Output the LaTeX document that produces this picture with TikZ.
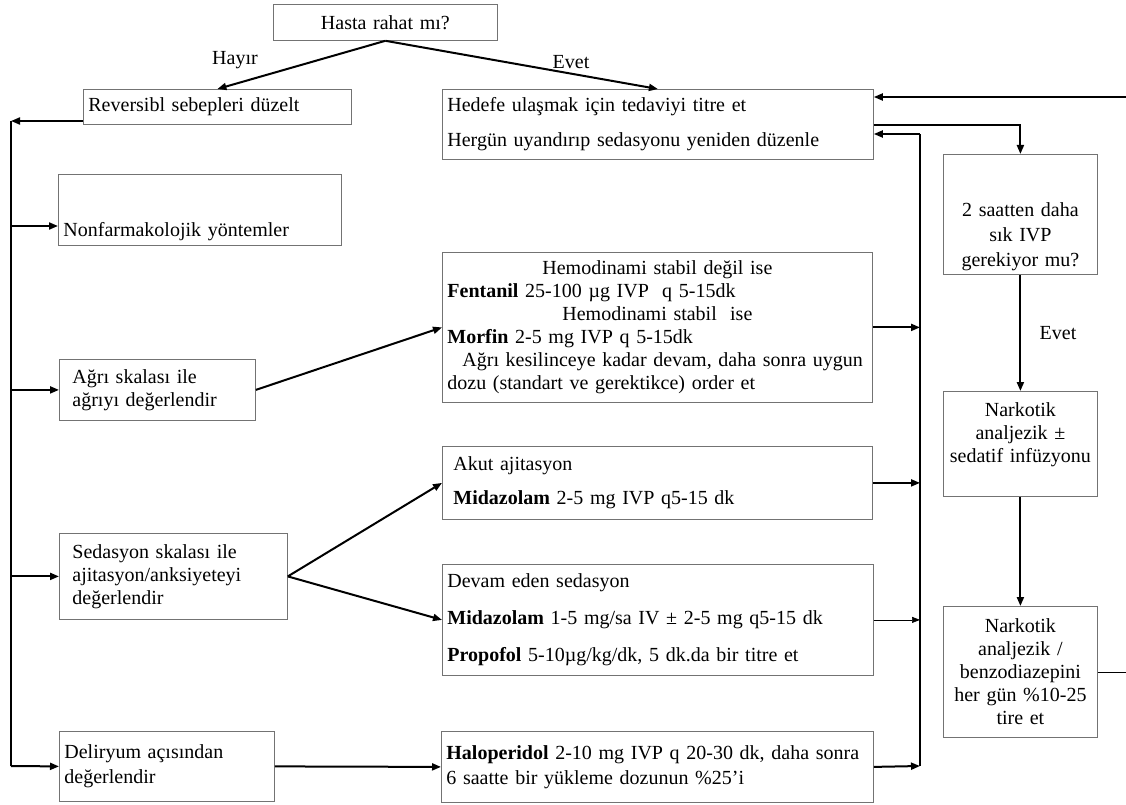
\documentclass[tikz,border=0pt]{standalone}
\usepackage{fontspec}
\setmainfont{Liberation Serif}
\usepackage{tikz}
\usetikzlibrary{arrows.meta, positioning}

\begin{document}
\begin{tikzpicture}[
  x=1pt, y=-1pt,
  box/.style={
    rectangle,
    draw=black!55,
    line width=0.8pt,
    anchor=north west,
    inner xsep=5pt,
    inner ysep=2pt,
    align=left
  },
  arrow/.style={-{Triangle[length=9pt,width=7pt]}, line width=2pt},
  thinarrow/.style={-{Triangle[length=8pt,width=6pt]}, line width=0.7pt},
  trunk/.style={line width=1.4pt},
  every node/.append style={font=\fontsize{20}{23}\selectfont}
]
\useasboundingbox (0,0) rectangle (1126,805);

% Nodes (left column)
\node[box, text width=214pt, minimum height=36pt, align=center] (hasta) at (273,4) {Hasta rahat mı?};
\node[box, text width=258pt, minimum height=35pt] (revers) at (83,89) {Reversibl sebepleri düzelt};
\node[box, text width=273pt, minimum height=71pt] (nonfarm) at (58,174) {\rule{0pt}{58pt}Nonfarmakolojik yöntemler};
\node[box, inner xsep=13pt, text width=170pt, minimum height=61pt] (agri) at (59,359) {Ağrı skalası ile\\ağrıyı değerlendir};
\node[box, inner xsep=13pt, text width=202pt, minimum height=86pt] (sedas) at (59,533) {Sedasyon skalası ile\\ajitasyon/anksiyeteyi\\değerlendir};
\node[box, text width=205pt, minimum height=70pt] (delir) at (59,731) {Deliryum açısından\\[2pt]değerlendir};

% Nodes (middle column)
\node[box, text width=421pt, minimum height=70pt] (hedef) at (442,89) {Hedefe ulaşmak için tedaviyi titre et\\[12pt]Hergün uyandırıp sedasyonu yeniden düzenle};
\node[box, text width=420pt, minimum height=150pt] (fenta) at (442,252) {%
  \makebox[420pt]{Hemodinami stabil değil ise}\\
  \textbf{Fentanil} 25-100 µg IVP\ \ q 5-15dk\\
  \makebox[420pt]{Hemodinami stabil\ \ ise}\\
  \textbf{Morfin} 2-5 mg IVP q 5-15dk\\
  \hspace*{15pt}Ağrı kesilinceye kadar devam, daha sonra uygun\\
  dozu (standart ve gerektikce) order et};
\node[box, inner xsep=11pt, text width=408pt, minimum height=73pt] (akut) at (442,446) {Akut ajitasyon\\[11pt]\textbf{Midazolam} 2-5 mg IVP q5-15 dk};
\node[box, text width=421pt, minimum height=111pt] (devam) at (442,564) {Devam eden sedasyon\\[14pt]\textbf{Midazolam} 1-5 mg/sa IV ± 2-5 mg q5-15 dk\\[14pt]\textbf{Propofol} 5-10µg/kg/dk, 5 dk.da bir titre et};
\node[box, text width=422pt, minimum height=71pt] (halo) at (441,731) {\textbf{Haloperidol} 2-10 mg IVP q 20-30 dk, daha sonra\\[2pt]6 saatte bir yükleme dozunun \%25’i};

% Nodes (right column)
\node[box, text width=144pt, minimum height=120pt, align=center] (saat) at (943,154) {\rule{0pt}{58pt}2 saatten daha\\[2pt]sık IVP\\[2pt]gerekiyor mu?};
\node[box, text width=144pt, minimum height=105pt, align=center] (nark1) at (943,391) {Narkotik\\analjezik ±\\sedatif infüzyonu\\\mbox{}};
\node[box, text width=144pt, minimum height=131pt, align=center] (nark2) at (943,606) {Narkotik\\analjezik /\\benzodiazepini\\her gün \%10-25\\tire et};

% Labels
\node (hayir) at (235,60) {Hayır};
\node (evet) at (571,62) {Evet};
\node (evet2) at (1058,333) {Evet};

% Trunk points
\coordinate (ltop) at (11,121);
\coordinate (lbot) at (11,766);
\coordinate (rtop) at (920,134);
\coordinate (rbot) at (920,766);
\coordinate (loop) at (1140,97);

% Arrows
\draw[arrow] (hasta.south) -- (revers.north);
\draw[arrow] (hasta.south) -- (hedef.north);
\draw[arrow] (revers.west |- ltop) -- (ltop);
\draw[trunk] (ltop) -- (lbot);
\draw[arrow] (ltop |- 0,226) -- (nonfarm.west |- 0,226);
\draw[arrow] (ltop |- agri.west) -- (agri.west);
\draw[arrow] (ltop |- sedas.west) -- (sedas.west);
\draw[arrow] (lbot) -- (delir.west);
\draw[arrow] (agri.east) -- (fenta.west);
\draw[arrow] (sedas.east) -- (akut.west);
\draw[arrow] (sedas.east) -- (devam.west);
\draw[arrow] (delir.east) -- (halo.west);

\draw[trunk] (rbot) -- (rtop);
\draw[arrow] (rtop) -- (hedef.east |- rtop);
\draw[arrow] (fenta.east) -- (rtop |- fenta.east);
\draw[arrow] (akut.east) -- (rtop |- akut.east);
\draw[thinarrow] (devam.east) -- (rtop |- devam.east);
\draw[arrow] (halo.east) -- (rbot);

\draw[arrow] (hedef.east |- 0,125) -| (saat.north);
\draw[arrow] (saat.south) -- (nark1.north);
\draw[arrow] (nark1.south) -- (nark2.north);
\draw[line width=0.7pt] (nark2.east) -- (nark2.east -| loop) -- (loop);
\draw[arrow] (loop) -- (hedef.east |- loop);

\end{tikzpicture}
\end{document}
